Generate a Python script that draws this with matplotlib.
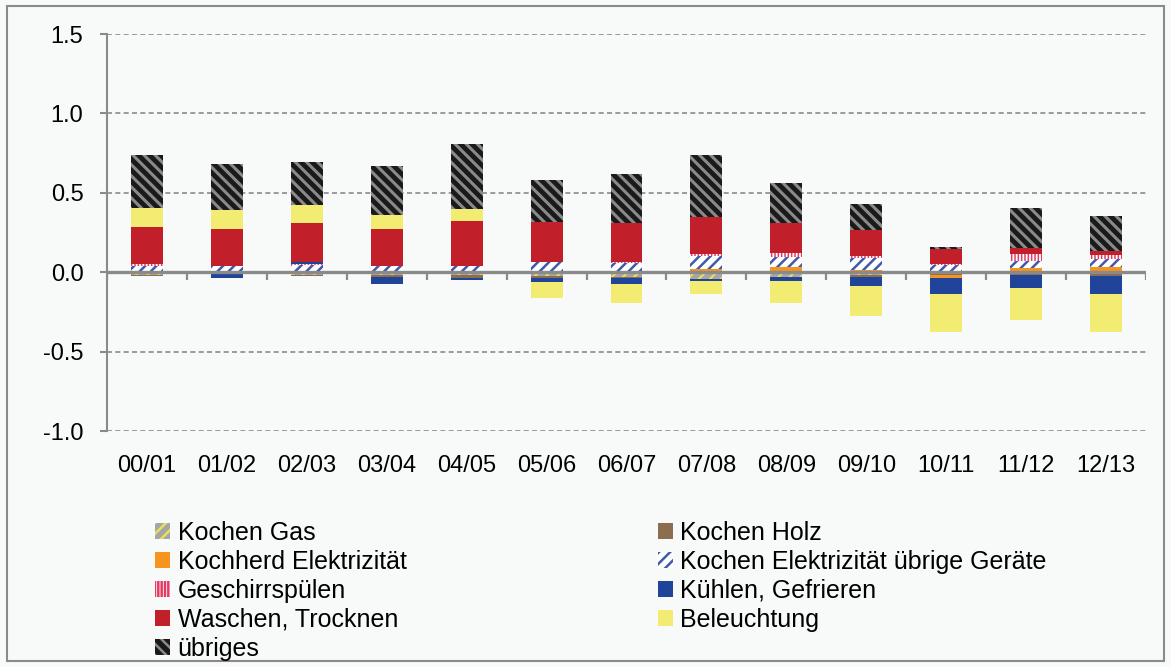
import matplotlib
matplotlib.use("Agg")
import matplotlib.pyplot as plt
import numpy as np
from matplotlib.patches import Rectangle

# household electricity change per season, by end use
seasons = ["00/01", "01/02", "02/03", "03/04", "04/05", "05/06", "06/07",
           "07/08", "08/09", "09/10", "10/11", "11/12", "12/13"]

kochen_gas = [-0.015, -0.005, -0.015, -0.018, -0.02, -0.025, -0.03,
              -0.04, -0.028, -0.02, -0.012, -0.012, -0.014]
kochen_holz = [-0.01, -0.008, -0.01, -0.012, -0.015, -0.01, -0.005,
               -0.005, -0.005, -0.008, -0.008, -0.008, -0.008]
kochherd_el = [0, 0, 0, 0, 0, 0, 0, 0.02, 0.03, 0.011, -0.015, 0.025, 0.033]
kochen_el_uebrige = [0.04, 0.039, 0.044, 0.039, 0.039, 0.062, 0.06,
                     0.082, 0.063, 0.079, 0.045, 0.048, 0.052]
geschirrspuelen = [0.012, 0, 0.01, 0, 0, 0.003, 0.003, 0.01, 0.03, 0.013,
                   0.006, 0.042, 0.025]
kuehlen = [0, -0.023, 0.008, -0.045, -0.015, -0.025, -0.037, -0.01, -0.02,
           -0.06, -0.1, -0.08, -0.115]
waschen = [0.233, 0.235, 0.25, 0.235, 0.286, 0.25, 0.25, 0.237, 0.187,
           0.16, 0.098, 0.036, 0.025]
beleuchtung = [0.12, 0.116, 0.113, 0.086, 0.073, -0.1, -0.12, -0.08,
               -0.138, -0.19, -0.24, -0.2, -0.24]
uebriges = [0.333, 0.29, 0.267, 0.307, 0.407, 0.264, 0.305, 0.392, 0.252,
            0.165, 0.01, 0.252, 0.217]

labels = ["Kochen Gas", "Kochen Holz", "Kochherd Elektrizität",
          "Kochen Elektrizität übrige Geräte", "Geschirrspülen",
          "Kühlen, Gefrieren", "Waschen, Trocknen", "Beleuchtung", "übriges"]
series = [kochen_gas, kochen_holz, kochherd_el, kochen_el_uebrige,
          geschirrspuelen, kuehlen, waschen, beleuchtung, uebriges]
# (facecolor, hatch, hatch colour, hatch width)
styles = [("#a6a6a6", "///", "#e8e05a", 1.6),
          ("#8c6d4f", None, "none", 1.0),
          ("#f7941d", None, "none", 1.0),
          ("white", "///", "#3f5aa8", 1.8),
          ("white", "|||||", "#e23c64", 1.1),
          ("#21449b", None, "none", 1.0),
          ("#c1202a", None, "none", 1.0),
          ("#f2ec72", None, "none", 1.0),
          ("#1a1a1a", "\\\\\\", "#8a8a8a", 2.2)]

plt.rcParams["font.family"] = ["Liberation Sans", "DejaVu Sans"]
plt.rcParams["font.size"] = 17
plt.rcParams["axes.unicode_minus"] = False
plt.rcParams["hatch.linewidth"] = 1.8

bg = "#f8fafa"
grey = "#8a8a8a"

fig = plt.figure(figsize=(11.71, 6.67), dpi=100, facecolor=bg)
ax = fig.add_axes([0.0914, 0.3538, 0.8872, 0.5952], facecolor=bg)

x = np.arange(len(seasons))
pos_base = np.zeros(len(seasons))
neg_base = np.zeros(len(seasons))
handles = []
for vals, lab, (fc, hatch, hc, hw) in zip(series, labels, styles):
    v = np.array(vals, dtype=float)
    bottom = np.where(v >= 0, pos_base, neg_base)
    with plt.rc_context({"hatch.linewidth": hw}):
        b = ax.bar(x, v, 0.4, bottom=bottom, facecolor=fc, hatch=hatch,
                   edgecolor=hc, linewidth=0, label=lab, zorder=2)
    handles.append(b)
    pos_base += np.clip(v, 0, None)
    neg_base += np.clip(v, None, 0)

# zero line with category separators
ax.axhline(0, color=grey, lw=2.4, zorder=4)
ax.vlines(np.arange(-0.5, len(seasons)), -0.05, 0, color=grey, lw=1.6, zorder=4)

ax.set_xlim(-0.5, len(seasons) - 0.5)
ax.set_ylim(-1.0, 1.5)
yt = [-1.0, -0.5, 0.0, 0.5, 1.0, 1.5]
ax.set_yticks(yt, [f"{t:.1f}" for t in yt])
ax.set_xticks(x, seasons)
ax.tick_params(axis="x", length=0, pad=17)
ax.tick_params(axis="y", length=5, width=1.5, color=grey, pad=12)
ax.yaxis.grid(True, color=grey, lw=1.2, linestyle=(0, (3, 2)), zorder=0)
ax.set_axisbelow(True)
for s in ["top", "right", "bottom"]:
    ax.spines[s].set_visible(False)
ax.spines["left"].set_color(grey)
ax.spines["left"].set_linewidth(1.5)

# legend filled row by row in two columns
leg_kw = dict(loc="upper left", frameon=False, borderpad=0, borderaxespad=0,
              handlelength=0.6, handleheight=0.6, handletextpad=0.3,
              labelspacing=0.2, fontsize=18)
left_idx = [0, 2, 4, 6, 8]
right_idx = [1, 3, 5, 7]
fig.legend([handles[i] for i in left_idx], [labels[i] for i in left_idx],
           bbox_to_anchor=(0.1324, 0.219), **leg_kw)
fig.legend([handles[i] for i in right_idx], [labels[i] for i in right_idx],
           bbox_to_anchor=(0.5619, 0.219), **leg_kw)

fig.add_artist(Rectangle((0.006, 0.009), 0.988, 0.982, transform=fig.transFigure,
                         fill=False, edgecolor=grey, lw=1.5))

fig.savefig("out.png", dpi=100, facecolor=bg)
